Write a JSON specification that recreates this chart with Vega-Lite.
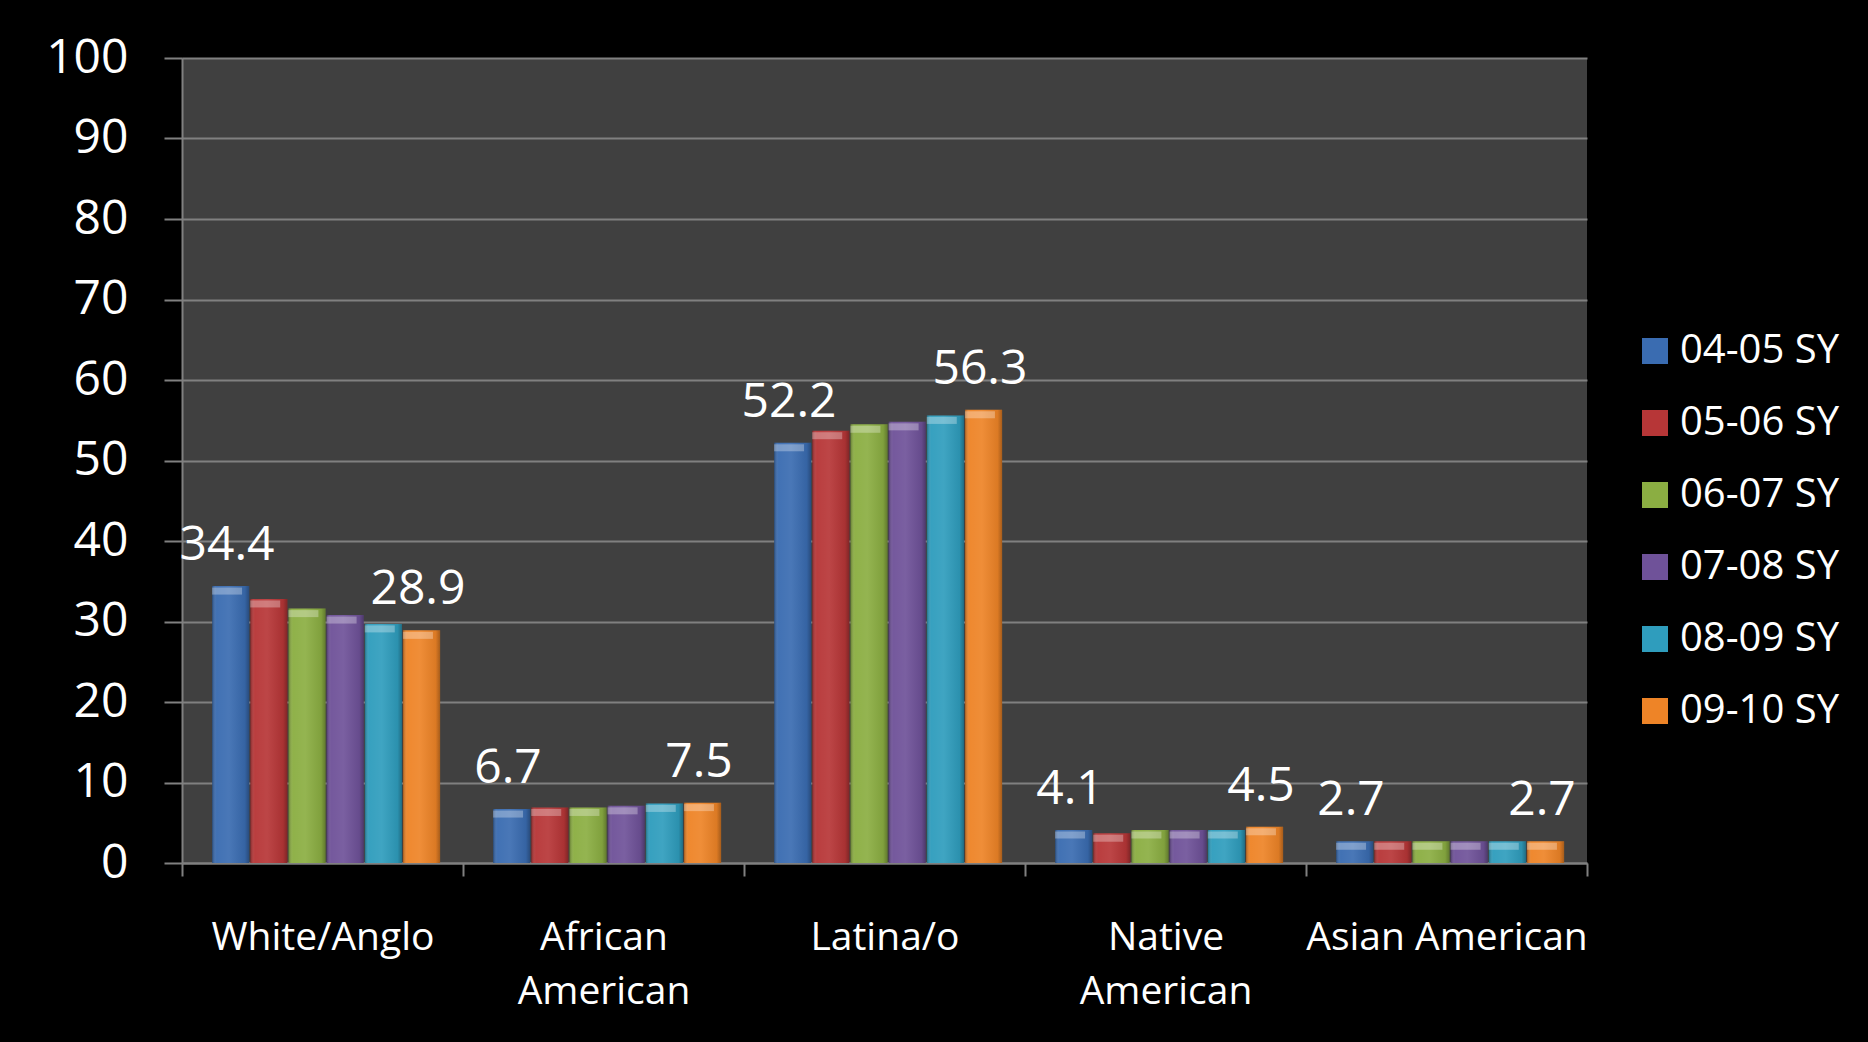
{
  "$schema": "https://vega.github.io/schema/vega-lite/v6.json",
  "width": 1405,
  "height": 805,
  "autosize": "none",
  "padding": {"left": 182, "top": 58, "right": 281, "bottom": 179},
  "background": "#000000",
  "config": {
    "font": "Open Sans",
    "view": {"fill": "#404040", "stroke": null}
  },
  "data": {
    "values": [
      {"group": "White/Anglo", "year": "04-05 SY", "pct": 34.4},
      {"group": "White/Anglo", "year": "05-06 SY", "pct": 32.8},
      {"group": "White/Anglo", "year": "06-07 SY", "pct": 31.6},
      {"group": "White/Anglo", "year": "07-08 SY", "pct": 30.8},
      {"group": "White/Anglo", "year": "08-09 SY", "pct": 29.7},
      {"group": "White/Anglo", "year": "09-10 SY", "pct": 28.9},
      {"group": "African American", "year": "04-05 SY", "pct": 6.7},
      {"group": "African American", "year": "05-06 SY", "pct": 6.9},
      {"group": "African American", "year": "06-07 SY", "pct": 6.9},
      {"group": "African American", "year": "07-08 SY", "pct": 7.1},
      {"group": "African American", "year": "08-09 SY", "pct": 7.4},
      {"group": "African American", "year": "09-10 SY", "pct": 7.5},
      {"group": "Latina/o", "year": "04-05 SY", "pct": 52.2},
      {"group": "Latina/o", "year": "05-06 SY", "pct": 53.7},
      {"group": "Latina/o", "year": "06-07 SY", "pct": 54.5},
      {"group": "Latina/o", "year": "07-08 SY", "pct": 54.8},
      {"group": "Latina/o", "year": "08-09 SY", "pct": 55.6},
      {"group": "Latina/o", "year": "09-10 SY", "pct": 56.3},
      {"group": "Native American", "year": "04-05 SY", "pct": 4.1},
      {"group": "Native American", "year": "05-06 SY", "pct": 3.7},
      {"group": "Native American", "year": "06-07 SY", "pct": 4.1},
      {"group": "Native American", "year": "07-08 SY", "pct": 4.1},
      {"group": "Native American", "year": "08-09 SY", "pct": 4.1},
      {"group": "Native American", "year": "09-10 SY", "pct": 4.5},
      {"group": "Asian American", "year": "04-05 SY", "pct": 2.7},
      {"group": "Asian American", "year": "05-06 SY", "pct": 2.7},
      {"group": "Asian American", "year": "06-07 SY", "pct": 2.7},
      {"group": "Asian American", "year": "07-08 SY", "pct": 2.7},
      {"group": "Asian American", "year": "08-09 SY", "pct": 2.7},
      {"group": "Asian American", "year": "09-10 SY", "pct": 2.7}
    ]
  },
  "encoding": {
    "x": {
      "field": "group",
      "type": "nominal",
      "sort": null,
      "scale": {"paddingInner": 0, "paddingOuter": 0},
      "axis": {
        "title": null,
        "labelAngle": 0,
        "labelColor": "#ffffff",
        "labelFontSize": 39,
        "labelLineHeight": 54,
        "labelPadding": 42,
        "labelLimit": 0,
        "labelExpr": "indexof(['African American', 'Native American'], datum.value) >= 0 ? split(datum.value, ' ') : datum.value",
        "tickBand": "extent",
        "tickSize": 13,
        "tickColor": "#808080",
        "tickWidth": 2,
        "domainColor": "#808080",
        "domainWidth": 2,
        "grid": false
      }
    },
    "xOffset": {"field": "year", "type": "nominal", "sort": null, "scale": {"paddingInner": 0, "paddingOuter": 0.68}},
    "y": {
      "field": "pct",
      "type": "quantitative",
      "scale": {"domain": [0, 100], "nice": false},
      "axis": {
        "title": null,
        "values": [0, 10, 20, 30, 40, 50, 60, 70, 80, 90, 100],
        "labelColor": "#ffffff",
        "labelFontSize": 48,
        "labelPadding": 36,
        "tickSize": 18,
        "tickColor": "#808080",
        "tickWidth": 2,
        "domainColor": "#808080",
        "domainWidth": 2,
        "gridColor": "#808080",
        "gridWidth": 2
      }
    }
  },
  "layer": [
    {
      "mark": {"type": "bar", "width": {"band": 0.97}},
      "encoding": {
        "color": {
          "field": "year",
          "type": "nominal",
          "sort": null,
          "scale": {
            "domain": ["04-05 SY", "05-06 SY", "06-07 SY", "07-08 SY", "08-09 SY", "09-10 SY"],
            "range": ["#3a6cb1", "#b73637", "#8bae42", "#6f5299", "#2f9dbd", "#ee8427"]
          },
          "legend": {
            "title": null,
            "orient": "none",
            "legendX": 1453,
            "legendY": 273,
            "padding": 0,
            "labelColor": "#ffffff",
            "labelFontSize": 40,
            "labelOffset": 5,
            "rowPadding": 32,
            "symbolType": "square",
            "symbolSize": 676,
            "symbolStrokeWidth": 0,
            "symbolOpacity": 1
          }
        }
      }
    },
    {
      "mark": {
        "type": "bar",
        "width": {"band": 0.97},
        "fill": {
          "gradient": "linear",
          "x1": 0, "y1": 0, "x2": 1, "y2": 0,
          "stops": [
            {"offset": 0, "color": "rgba(0,0,0,0.28)"},
            {"offset": 0.12, "color": "rgba(255,255,255,0.04)"},
            {"offset": 0.45, "color": "rgba(255,255,255,0.08)"},
            {"offset": 0.88, "color": "rgba(0,0,0,0.08)"},
            {"offset": 1, "color": "rgba(0,0,0,0.3)"}
          ]
        }
      }
    },
    {
      "mark": {"type": "tick", "orient": "horizontal", "thickness": 7, "size": 30, "yOffset": 5, "color": "#ffffff", "opacity": 0.3}
    },
    {
      "transform": [{"filter": "datum.year == '04-05 SY' || datum.year == '09-10 SY'"}],
      "mark": {"type": "text", "color": "#ffffff", "fontSize": 48, "baseline": "alphabetic", "align": "center", "dy": -26},
      "encoding": {"text": {"field": "pct", "type": "quantitative", "format": ".1f"}}
    }
  ]
}
